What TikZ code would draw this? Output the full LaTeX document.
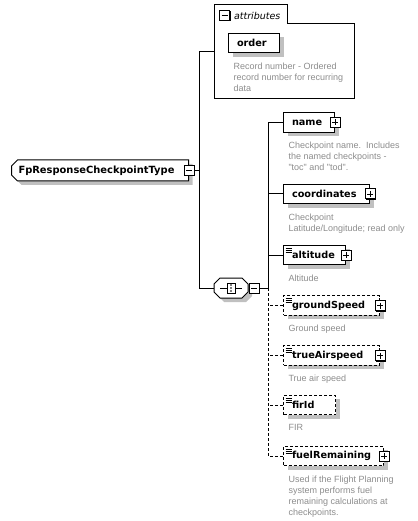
\documentclass[tikz,border=0pt]{standalone}
\usepackage{fontspec}
\setmainfont{DejaVu Sans}
\newfontfamily\descfont{Liberation Sans}
\usetikzlibrary{positioning,shapes.misc,shadows}
\definecolor{descgray}{RGB}{140,140,140}
\definecolor{shadegray}{RGB}{192,192,192}

\begin{document}
\begin{tikzpicture}[
    x=1pt, y=-1pt, line width=1pt,
    boxshadow/.style={drop shadow={shadow xshift=4pt, shadow yshift=-4pt, fill=shadegray, opacity=1}},
    elem/.style={rectangle, draw, fill=white, boxshadow, anchor=west, minimum height=19.5pt, inner xsep=8.5pt, inner ysep=0pt, align=left, font=\bfseries\fontsize{9.7}{11}\selectfont},
    opt/.style={elem, dash pattern=on 3pt off 2pt},
    optline/.style={dash pattern=on 3pt off 2pt},
    multi/.style={path picture={\foreach \k in {3,5,7} \draw[solid, line width=0.7pt] ([xshift=2pt,yshift=-\k pt]path picture bounding box.north west) -- ++(6pt,0);}},
    desc/.style={anchor=north west, inner sep=0pt, align=left, text=descgray, font=\descfont\fontsize{9}{11}\selectfont},
    iconbox/.style={rectangle, draw, solid, fill=white, minimum size=10pt, inner sep=0pt, drop shadow={shadow xshift=1pt, shadow yshift=-1pt, fill=black, opacity=1}},
    minusbox/.style={iconbox, path picture={\draw[line width=0.9pt] ([xshift=2pt]path picture bounding box.west) -- ([xshift=-2pt]path picture bounding box.east);}},
    plusbox/.style={iconbox, path picture={\draw[line width=0.9pt] ([xshift=2pt]path picture bounding box.west) -- ([xshift=-2pt]path picture bounding box.east); \draw[line width=0.9pt] ([yshift=-2pt]path picture bounding box.north) -- ([yshift=2pt]path picture bounding box.south);}},
    root/.style={chamfered rectangle, chamfered rectangle corners={north west,south west}, chamfered rectangle xsep=3pt, chamfered rectangle ysep=3pt, draw, fill=white, boxshadow, anchor=west, minimum height=21pt, inner xsep=4pt, inner ysep=0pt, align=left, font=\bfseries\fontsize{9.9}{11}\selectfont},
    seqbox/.style={rectangle, minimum width=34pt, minimum height=20pt, inner sep=0pt}
]
\useasboundingbox (0,0) rectangle (417,521);

% complex type
\node[root, text width=163pt] (root) at (11,170.5) {FpResponseCheckpointType};
\node[minusbox] (rootmin) at (root.east) {};

% attribute group
\draw (214,5) -- (287,5) -- (287,24) -- (354,24) -- (354,99) -- (214,99) -- cycle;
\coordinate (atin) at (214,52);
\node[minusbox] (attrmin) at (224.5,15.5) {};
\node[right=3.5pt of attrmin, inner sep=0pt, font=\itshape\fontsize{9.5}{11}\selectfont] (attrlabel) {attributes};
\node[elem, text width=34pt] (order) at (228,43) {order};
\node[desc, below right=9pt and 5pt of order.south west] (orderdesc) {Record number - Ordered\\record number for recurring\\data};

% sequence
\node[seqbox] (seq) at (231,288) {};
\draw[fill=white, boxshadow] (214,284) -- (220,278) -- (242,278) -- (248,284) -- (248,292) -- (242,298) -- (220,298) -- (214,292) -- cycle;
\draw[line width=0.8pt] ([xshift=-11pt]seq.center) -- ([xshift=11pt]seq.center);
\node[draw, fill=white, line width=0.8pt, minimum width=8pt, minimum height=10pt, inner sep=0pt] (seqicon) at (seq.center) {};
\foreach \d in {-3,0,3} \fill ([yshift=\d pt]seqicon.center) circle (0.9pt);
\node[minusbox] (seqmin) at (254,288) {};

% child elements
\node[elem, text width=34pt] (name) at (283,122.5) {name};
\node[plusbox] (nameplus) at (name.east) {};
\node[desc, below right=9pt and 5pt of name.south west] (namedesc) {Checkpoint name.\ \ Includes\\the named checkpoints -\\"toc" and "tod".};

\node[elem, text width=69pt] (coordinates) at (283,194) {coordinates};
\node[plusbox] (coordplus) at (coordinates.east) {};
\node[desc, below right=9pt and 5pt of coordinates.south west] (coorddesc) {Checkpoint\\Latitude/Longitude; read only};

\node[elem, multi, text width=45pt] (altitude) at (283,255) {altitude};
\node[plusbox] (altplus) at (altitude.east) {};
\node[desc, below right=9pt and 5pt of altitude.south west] (altdesc) {Altitude};

\node[opt, multi, text width=79pt] (groundSpeed) at (283,305.5) {groundSpeed};
\node[plusbox] (gsplus) at (groundSpeed.east) {};
\node[desc, below right=9pt and 5pt of groundSpeed.south west] (gsdesc) {Ground speed};

\node[opt, multi, text width=79pt] (trueAirspeed) at (283,355.5) {trueAirspeed};
\node[plusbox] (tasplus) at (trueAirspeed.east) {};
\node[desc, below right=9pt and 5pt of trueAirspeed.south west] (tasdesc) {True air speed};

\node[opt, multi, text width=35pt] (firId) at (283,405) {firId};
\node[desc, below right=9pt and 5pt of firId.south west] (firdesc) {FIR};

\node[opt, multi, text width=83pt] (fuelRemaining) at (283,456) {fuelRemaining};
\node[plusbox] (fuelplus) at (fuelRemaining.east) {};
\node[desc, below right=9pt and 5pt of fuelRemaining.south west] (fueldesc) {Used if the Flight Planning\\system performs fuel\\remaining calculations at\\checkpoints.};

% connectors
\coordinate (fork) at (199.5,170.5);
\coordinate (bus) at (268,288);
\draw (rootmin.east) -- (fork);
\draw (atin) -| (fork) |- (seq.west);
\draw (seqmin.east) -- (bus);
\draw (name.west) -| (bus);
\draw (coordinates.west) -- (coordinates.west -| bus);
\draw (altitude.west) -- (altitude.west -| bus);
\draw[optline] (bus) |- (fuelRemaining.west);
\foreach \n in {groundSpeed,trueAirspeed,firId}
    \draw[optline] (\n.west) -- (\n.west -| bus);

\end{tikzpicture}
\end{document}
